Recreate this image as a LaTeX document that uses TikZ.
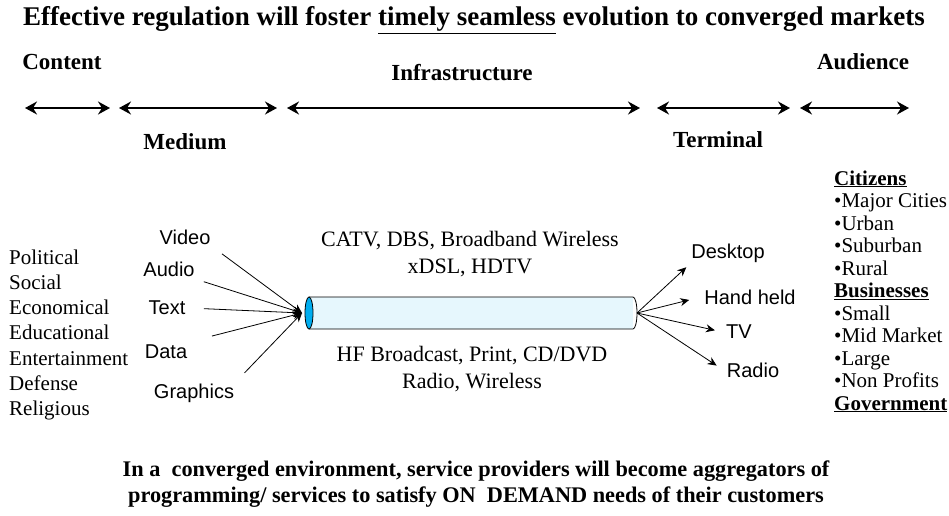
\documentclass[tikz,border=0pt]{standalone}
\usepackage{fontspec}
\setmainfont{Liberation Serif}
\setsansfont{Liberation Sans}
\usetikzlibrary{arrows.meta}

\newcommand{\audhead}[1]{\textbf{\underline{#1}}}

\tikzset{
  hdr/.style={font=\bfseries\fontsize{23}{27}\selectfont},
  pipetxt/.style={font=\fontsize{22}{27}\selectfont, align=center},
  media/.style={font=\sffamily\fontsize{20}{24}\selectfont},
  span/.style={line width=2.5pt, {Stealth[length=12pt,width=13pt,inset=4pt]}-{Stealth[length=12pt,width=13pt,inset=4pt]}},
  feed/.style={line width=0.8pt, -{Stealth[length=9pt,width=8pt]}},
}

\begin{document}
\begin{tikzpicture}[x=1pt, y=-1pt]
    \useasboundingbox (0,0) rectangle (949,515);

    % headline
    \node[hdr, font=\bfseries\fontsize{27}{31}\selectfont] (title) at (474,20) {Effective regulation will foster \underline{timely seamless} evolution to converged markets};

    % value chain stages
    \node[hdr] (content) at (62,62) {Content};
    \node[hdr] (infra) at (462,73) {Infrastructure};
    \node[hdr] (audience) at (863,62) {Audience};
    \node[hdr] (medium) at (185,142) {Medium};
    \node[hdr] (terminal) at (718,140) {Terminal};

    \coordinate (c1) at (25,108);  \coordinate (c2) at (110,108);
    \coordinate (m1) at (119,108); \coordinate (m2) at (277,108);
    \coordinate (i1) at (287,108); \coordinate (i2) at (640,108);
    \coordinate (t1) at (657,108); \coordinate (t2) at (790,108);
    \coordinate (a1) at (800,108); \coordinate (a2) at (909,108);
    \draw[span] (c1) -- (c2);
    \draw[span] (m1) -- (m2);
    \draw[span] (i1) -- (i2);
    \draw[span] (t1) -- (t2);
    \draw[span] (a1) -- (a2);

    % content areas
    \foreach \w [count=\i from 0] in {Political,Social,Economical,Educational,Entertainment,Defense,Religious}
        \node[font=\fontsize{21}{25}\selectfont, anchor=base west, inner sep=0pt] (area\i) at (9,264+25.3*\i) {\w};

    % the pipe
    \fill[cyan!10] (309,297) rectangle (633,329);
    \draw[line width=0.8pt] (309,297) -- (633,297) arc[start angle=-90, end angle=90, x radius=4, y radius=16] -- (309,329);
    \draw[line width=0.8pt, fill=cyan] (309,313) ellipse [x radius=4, y radius=16];
    \coordinate (pipeL) at (302,313);
    \coordinate (pipeR) at (637,313);

    \node[pipetxt] (wired) at (470,254) {CATV, DBS, Broadband Wireless\\xDSL, HDTV};
    \node[pipetxt] (other) at (472,369) {HF Broadcast, Print, CD/DVD\\Radio, Wireless};

    % media going in
    \node[media] (video) at (185,237) {Video};
    \node[media] (audio) at (169,269) {Audio};
    \node[media] (text) at (167,308) {Text};
    \node[media] (data) at (166,352) {Data};
    \node[media] (graphics) at (194,393) {Graphics};
    \draw[feed, shorten <=10pt] (video.south east) -- (pipeL);
    \draw[feed, shorten <=6pt] (audio.south east) -- (pipeL);
    \draw[feed, shorten <=15pt] (text.east) -- (pipeL);
    \draw[feed, shorten <=22pt] (data.north east) -- (pipeL);
    \draw[feed, shorten <=10pt] (graphics.north east) -- (pipeL);

    % terminals coming out
    \node[media] (desktop) at (728,253) {Desktop};
    \node[media] (handheld) at (750,297) {Hand held};
    \node[media] (tv) at (739,332) {TV};
    \node[media] (radio) at (753,370) {Radio};
    \draw[feed, shorten >=2pt] (pipeR) -- (desktop.south west);
    \draw[feed, shorten >=12pt] (pipeR) -- (handheld.west);
    \draw[feed, shorten >=8pt] (pipeR) -- (tv.west);
    \draw[feed, shorten >=8pt] (pipeR) -- (radio.west);

    % audience groups
    \foreach \w [count=\i from 0] in {\audhead{Citizens},\textbullet Major Cities,\textbullet Urban,\textbullet Suburban,\textbullet Rural,\audhead{Businesses},\textbullet Small,\textbullet Mid Market,\textbullet Large,\textbullet Non Profits,\audhead{Government}}
        \node[font=\fontsize{21}{22}\selectfont, anchor=base west, inner sep=0pt] (aud\i) at (834,185+22.5*\i) {\w};

    % closing statement
    \node[hdr, font=\bfseries\fontsize{22.3}{26.5}\selectfont, align=center] (summary) at (476,484) {In a~ converged environment, service providers will become aggregators of\\programming/ services to satisfy ON~ DEMAND needs of their customers};
\end{tikzpicture}
\end{document}
